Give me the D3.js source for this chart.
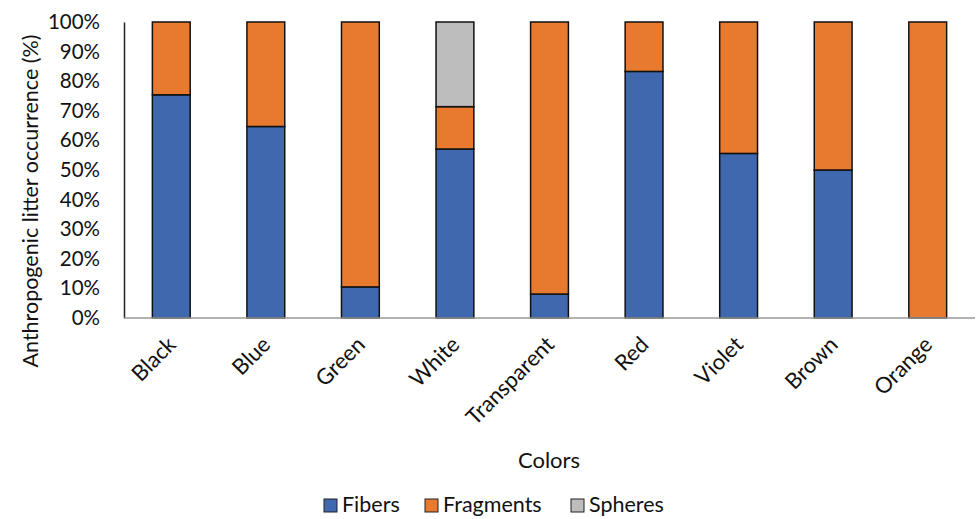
<!DOCTYPE html>
<html>
<head>
<meta charset="utf-8">
<script src="https://cdn.jsdelivr.net/npm/d3@7"></script>
<style>
  html, body { margin: 0; padding: 0; background: #fff; }
  svg { display: block; font-family: Lato, "Open Sans", sans-serif; }
</style>
</head>
<body>
<svg id="chart" width="976" height="519"></svg>
<script>
// Share of each litter type (%) by particle colour
const categories = ["Black", "Blue", "Green", "White", "Transparent", "Red", "Violet", "Brown", "Orange"];
const fibers    = [75.4, 64.7, 10.5, 57.1, 8.1, 83.3, 55.6, 50.0, 0];
const fragments = [24.6, 35.3, 89.5, 14.3, 91.9, 16.7, 44.4, 50.0, 100];
const spheres   = [0, 0, 0, 28.6, 0, 0, 0, 0, 0];
const seriesNames = ["Fibers", "Fragments", "Spheres"];
const seriesColors = ["#3F68AF", "#E87A30", "#BDBDBD"];
const yTicks = [0, 10, 20, 30, 40, 50, 60, 70, 80, 90, 100];

const svg = d3.select("#chart");
const margin = { left: 124, right: 975, top: 22, bottom: 318 };

const rows = categories.map((c, i) => ({
  cat: c, Fibers: fibers[i], Fragments: fragments[i], Spheres: spheres[i]
}));
const stacked = d3.stack().keys(seriesNames)(rows);

const x = d3.scaleBand().domain(categories).range([margin.left, margin.right]).paddingInner(0.6).paddingOuter(0.3);
const y = d3.scaleLinear().domain([0, 100]).range([margin.bottom, margin.top]);
const color = d3.scaleOrdinal().domain(seriesNames).range(seriesColors);

// bars
svg.append("g").selectAll("g")
  .data(stacked)
  .join("g")
  .attr("fill", d => color(d.key))
  .selectAll("rect")
  .data(d => d.filter(p => p[1] - p[0] > 0))
  .join("rect")
  .attr("x", d => x(d.data.cat))
  .attr("width", x.bandwidth())
  .attr("y", d => y(d[1]))
  .attr("height", d => y(d[0]) - y(d[1]))
  .attr("stroke", "#111")
  .attr("stroke-width", 1.5);

// y axis
const yAxis = svg.append("g")
  .attr("transform", `translate(${margin.left},0)`)
  .call(d3.axisLeft(y).tickValues(yTicks).tickSize(0).tickPadding(24).tickFormat(d => d + "%"));
yAxis.select(".domain").attr("stroke", "#222").attr("stroke-width", 1.5);
yAxis.selectAll("text").attr("font-size", 20.5).attr("fill", "#111").attr("font-family", "Lato, sans-serif");

// x axis
const xAxis = svg.append("g")
  .attr("transform", `translate(0,${margin.bottom})`)
  .call(d3.axisBottom(x).tickSize(0).tickPadding(0));
xAxis.select(".domain").attr("stroke", "#999").attr("stroke-width", 1.5).attr("d", `M${margin.left},0H${margin.right}`);
xAxis.selectAll("text")
  .attr("font-size", 22).attr("fill", "#111").attr("font-family", "Lato, sans-serif")
  .attr("text-anchor", "end")
  .attr("dy", "0")
  .attr("transform", "translate(6,28) rotate(-45)");

// axis titles
svg.append("text")
  .attr("transform", `translate(38,${(margin.top + 380) / 2}) rotate(-90)`)
  .attr("text-anchor", "middle")
  .attr("font-size", 21.5).attr("fill", "#111")
  .text("Anthropogenic litter occurrence (%)");

svg.append("text")
  .attr("x", 549).attr("y", 468)
  .attr("text-anchor", "middle")
  .attr("font-size", 22).attr("fill", "#111")
  .text("Colors");

// legend
const legendX = [324, 425, 571];
const legend = svg.append("g").selectAll("g")
  .data(seriesNames)
  .join("g")
  .attr("transform", (d, i) => `translate(${legendX[i]},505)`);
legend.append("rect")
  .attr("x", 0).attr("y", -6).attr("width", 13).attr("height", 13)
  .attr("fill", d => color(d)).attr("stroke", "#222").attr("stroke-width", 1);
legend.append("text")
  .attr("x", 18).attr("y", 7)
  .attr("font-size", 21.5).attr("fill", "#111")
  .text(d => d);
</script>
</body>
</html>
